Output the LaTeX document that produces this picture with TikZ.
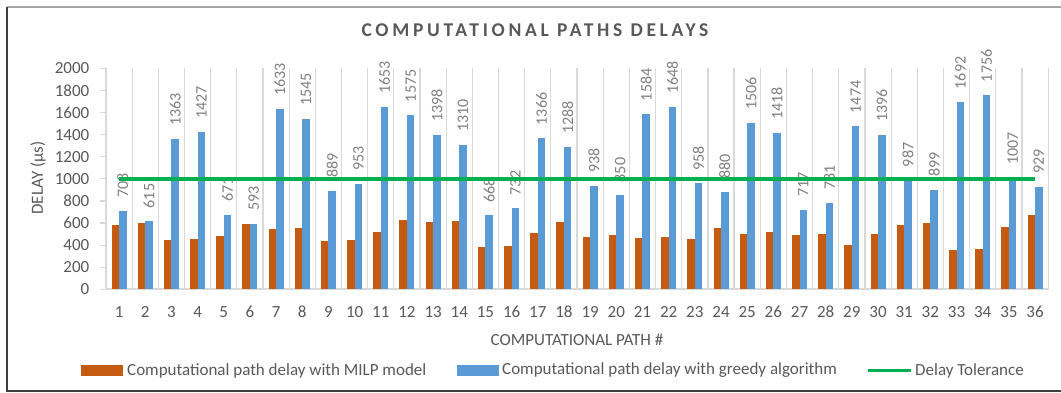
\documentclass[tikz,border=0pt]{standalone}
\usepackage{fontspec}
\setmainfont{Carlito}
\definecolor{milp}{HTML}{C55A11}
\definecolor{greedy}{HTML}{5B9BD5}
\definecolor{tol}{HTML}{00B050}
\definecolor{txt}{HTML}{595959}
\definecolor{lbl}{HTML}{808080}
\definecolor{gridc}{HTML}{D9D9D9}
\tikzset{
  plaintext/.style={inner sep=0pt, text=txt, font=\fontsize{17}{17}\selectfont},
  datalabel/.style={inner sep=0pt, text=lbl, rotate=90, anchor=west, font=\fontsize{16}{16}\selectfont},
  titletext/.style={inner sep=0pt, text=txt, font=\fontsize{19.5}{19.5}\selectfont\bfseries\addfontfeatures{LetterSpace=19}},
  gridline/.style={draw=gridc, line width=1.2pt},
  milpbar/.style={fill=milp},
  greedybar/.style={fill=greedy},
  tolline/.style={draw=tol, line width=3.7pt},
}
\begin{document}
\begin{tikzpicture}[x=1pt,y=-1pt]
\useasboundingbox (0,0) rectangle (1061,392);
\fill[white] (0,0) rectangle (1061,392);
% frame
\draw[gray!70, line width=1.5pt] (1061,7) -- (7,7);
\draw[black!75, line width=1.5pt] (7,7) -- (7,391) -- (1061,391);
% title
\node[titletext] (title) at (535,30) {COMPUTATIONAL PATHS DELAYS};
% vertical grid
\foreach \i in {0,...,36} {
  \draw[gridline] ({106+26.17*\i},68.3) -- ({106+26.17*\i},289.3);
}
% y ticks and labels
\foreach \v in {0,200,...,2000} {
  \draw[gridline] (100,{289.3-0.1105*\v}) -- (106,{289.3-0.1105*\v});
  \node[plaintext, anchor=east] (yt\v) at (89.5,{289.3-0.1105*\v}) {\v};
}
% x axis
\draw[draw=gridc, line width=2pt] (105,289.3) -- (1049,289.3);
% bars
\foreach \o/\b [count=\i] in {582/708,600/615,446/1363,455/1427,486/671,591/593,543/1633,558/1545,437/889,449/953,519/1653,627/1575,609/1398,622/1310,382/668,391/732,508/1366,613/1288,475/938,490/850,463/1584,472/1648,454/958,559/880,499/1506,517/1418,493/717,502/781,397/1474,505/1396,586/987,601/899,352/1692,364/1756,562/1007,670/929} {
  \pgfmathsetmacro{\c}{106+26.17*(\i-0.5)}
  \fill[milpbar] ({\c-7.5},289.3) rectangle (\c,{289.3-0.1105*\o});
  \fill[greedybar] (\c,289.3) rectangle ({\c+7.5},{289.3-0.1105*\b});
  \node[datalabel] (l\i) at ({\c+3.75},{289.3-0.1105*\b-13}) {\b};
  \node[plaintext] (x\i) at (\c,312) {\i};
  \coordinate (t\i) at (\c,{289.3-0.1105*1000});
}
% tolerance line
\draw[tolline] (t1) -- (t36);
% axis titles
\node[plaintext] (xtitle) at (577,340) {COMPUTATIONAL PATH \#};
\node[plaintext, rotate=90] (ytitle) at (38,178) {DELAY (µs)};
% legend
\fill[milpbar] (81,365) rectangle (123,376);
\node[plaintext, anchor=west] (leg1) at (127,370.5) {Computational path delay with MILP model};
\fill[greedybar] (457,365) rectangle (499,376);
\node[plaintext, anchor=west] (leg2) at (502,370.5) {Computational path delay with greedy algorithm};
\coordinate (g1) at (868,370.5);
\coordinate (g2) at (911,370.5);
\draw[tolline] (g1) -- (g2);
\node[plaintext, anchor=west] (leg3) at (915,370.5) {Delay Tolerance};
\end{tikzpicture}
\end{document}
